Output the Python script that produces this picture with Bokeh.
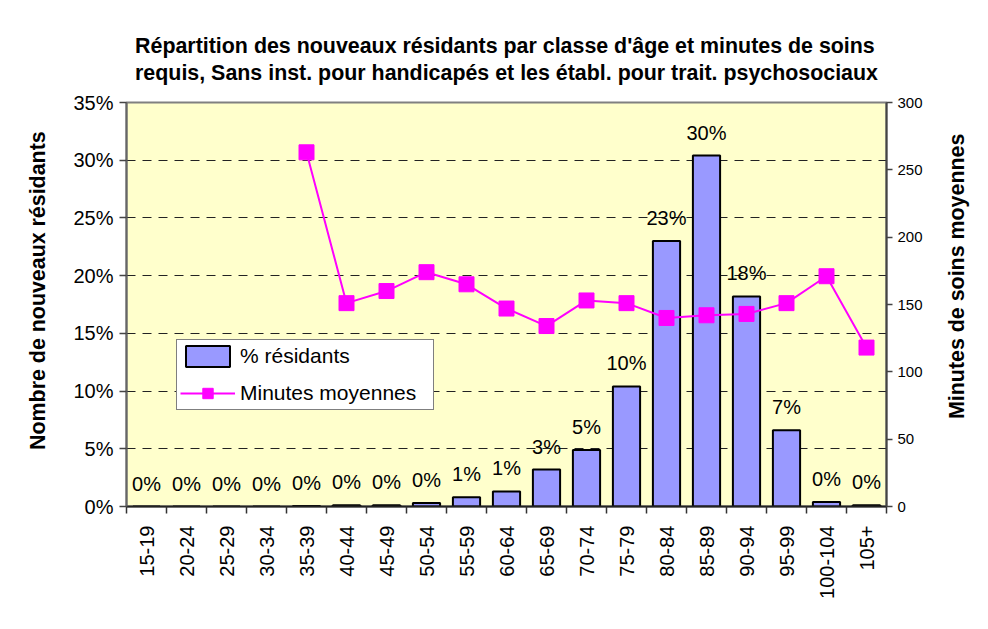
import math
from bokeh.plotting import figure
from bokeh.models import (Range1d, LinearAxis, FixedTicker, PrintfTickFormatter,
                          ColumnDataSource, LabelSet, Legend, LegendItem, Title)
from bokeh.core.properties import value
from bokeh.embed import file_html
from bokeh.resources import INLINE

categories = ["15-19", "20-24", "25-29", "30-34", "35-39", "40-44", "45-49", "50-54",
              "55-59", "60-64", "65-69", "70-74", "75-79", "80-84", "85-89", "90-94",
              "95-99", "100-104", "105+"]
pct_residents = [0.0, 0.0, 0.0, 0.0, 0.05, 0.1, 0.1, 0.3, 0.8, 1.3, 3.2, 4.9, 10.4,
                 23.0, 30.4, 18.2, 6.6, 0.4, 0.1]
minutes = [float("nan")] * 4 + [263, 151, 160, 174, 165, 147, 134, 153, 151, 140,
                                142, 143, 151, 171, 118]
pct_ticks = [0, 5, 10, 15, 20, 25, 30, 35]
minute_ticks = [0, 50, 100, 150, 200, 250, 300]
title_lines = ["Répartition des nouveaux résidants par classe d'âge et minutes de soins",
               "requis, Sans inst. pour handicapés et les établ. pour trait. psychosociaux"]
left_title = "Nombre de nouveaux résidants"
right_title = "Minutes de soins moyennes"

FONT = "Liberation Sans"
xs = list(range(len(categories)))
x_lo, x_hi = -0.5, len(categories) - 0.5
src = ColumnDataSource(dict(
    x=xs, pct=pct_residents, minutes=minutes,
    label=[f"{round(v)}%" for v in pct_residents],
))

p = figure(width=981, height=617, output_backend="svg", toolbar_location=None,
           x_range=Range1d(x_lo, x_hi), y_range=Range1d(pct_ticks[0], pct_ticks[-1]),
           min_border_left=119, min_border_right=102, min_border_top=90,
           min_border_bottom=123)
p.margin = (12, 0, 0, 7)
p.background_fill_color = "#FFFFCC"
p.border_fill_color = "white"
p.outline_line_color = "#808080"
p.outline_line_width = 2

t = Title(text="\n".join(title_lines), align="center", text_font=FONT,
          text_font_size="21.4px", text_font_style="bold", text_color="black",
          standoff=34, text_line_height=1.15)
p.add_layout(t, "above")

p.extra_y_ranges = {"min": Range1d(minute_ticks[0], minute_ticks[-1])}

bars = p.vbar(x="x", top="pct", width=0.68, source=src, fill_color="#9999FF",
              line_color="black", line_width=2)
ln = p.line(x="x", y="minutes", source=src, y_range_name="min",
            line_color="#FF00FF", line_width=2)
sq = p.scatter(x="x", y="minutes", source=src, y_range_name="min", marker="square",
               size=15, fill_color="#FF00FF", line_color="#FF00FF")

labels = LabelSet(x="x", y="pct", text="label", source=src, y_offset=16,
                  text_align="center", text_baseline="alphabetic",
                  text_font=value(FONT), text_font_size="20px", text_color="black")
p.add_layout(labels)

# grid
p.xgrid.visible = False
p.ygrid.ticker = FixedTicker(ticks=pct_ticks)
p.ygrid.grid_line_color = "#222222"
p.ygrid.grid_line_dash = "9 7"
p.ygrid.grid_line_width = 1

# x axis
xa = p.xaxis[0]
xa.ticker = FixedTicker(ticks=xs, minor_ticks=[i - 0.5 for i in range(len(categories) + 1)])
xa.major_label_overrides = {i: c for i, c in enumerate(categories)}
xa.major_label_orientation = math.pi / 2
xa.major_tick_in = 0
xa.major_tick_out = 0
xa.minor_tick_in = 0
xa.minor_tick_out = 7
xa.minor_tick_line_color = "#333333"
xa.minor_tick_line_width = 1.5
xa.axis_line_color = "#222222"
xa.axis_line_width = 2
xa.major_label_text_font = FONT
xa.major_label_text_font_size = "20px"
xa.major_label_text_color = "black"
xa.major_label_standoff = 12

# left axis
ya = p.yaxis[0]
ya.ticker = FixedTicker(ticks=pct_ticks)
ya.formatter = PrintfTickFormatter(format="%d%%")
ya.major_tick_in = 0
ya.major_tick_out = 7
ya.minor_tick_out = 0
ya.minor_tick_in = 0
ya.axis_line_color = "#666666"
ya.axis_line_width = 2
ya.major_tick_line_color = "#444444"
ya.major_tick_line_width = 1.5
ya.major_label_text_font = FONT
ya.major_label_text_font_size = "20px"
ya.major_label_text_color = "black"
ya.major_label_standoff = 6


def title_axis(range_name, anchor, text, standoff):
    """A bare axis whose single label is the axis title (reads bottom-to-top)."""
    kw = {"y_range_name": range_name} if range_name else {}
    ax = LinearAxis(ticker=FixedTicker(ticks=[anchor]), **kw)
    ax.major_label_overrides = {anchor: text}
    ax.major_label_orientation = math.pi / 2
    ax.axis_line_color = None
    ax.major_tick_line_color = None
    ax.minor_tick_line_color = None
    ax.major_tick_in = 0
    ax.major_tick_out = 0
    ax.minor_tick_in = 0
    ax.minor_tick_out = 0
    ax.major_label_standoff = standoff
    ax.major_label_text_font = FONT
    ax.major_label_text_font_size = "21.4px"
    ax.major_label_text_font_style = "bold"
    ax.major_label_text_color = "black"
    return ax


# left title: its top end sits at 32.5 %
p.add_layout(title_axis(None, 32.5, left_title, 32), "left")

# right axis
ra = LinearAxis(y_range_name="min", ticker=FixedTicker(ticks=minute_ticks))
ra.major_tick_in = 0
ra.major_tick_out = 6
ra.minor_tick_out = 0
ra.minor_tick_in = 0
ra.axis_line_color = "#444444"
ra.axis_line_width = 2
ra.major_tick_line_color = "#444444"
ra.major_tick_line_width = 1.5
ra.major_label_text_font = FONT
ra.major_label_text_font_size = "15px"
ra.major_label_text_color = "black"
ra.major_label_standoff = 5
p.add_layout(ra, "right")

# right title: its bottom end sits at 65 minutes
p.add_layout(title_axis("min", 65, right_title, 32), "right")

legend = Legend(items=[LegendItem(label="% résidants", renderers=[bars]),
                       LegendItem(label="Minutes moyennes", renderers=[ln, sq])],
                location=(50, 96))
legend.background_fill_color = "white"
legend.background_fill_alpha = 1
legend.border_line_color = "black"
legend.border_line_width = 1.5
legend.label_text_font = FONT
legend.label_text_font_size = "21px"
legend.label_text_color = "black"
legend.glyph_width = 55
legend.glyph_height = 26
legend.label_height = 26
legend.label_width = 190
legend.label_standoff = 5
legend.padding = 3
legend.spacing = 11
legend.margin = 0
p.add_layout(legend)

open("out.html", "w").write(file_html(p, INLINE))
